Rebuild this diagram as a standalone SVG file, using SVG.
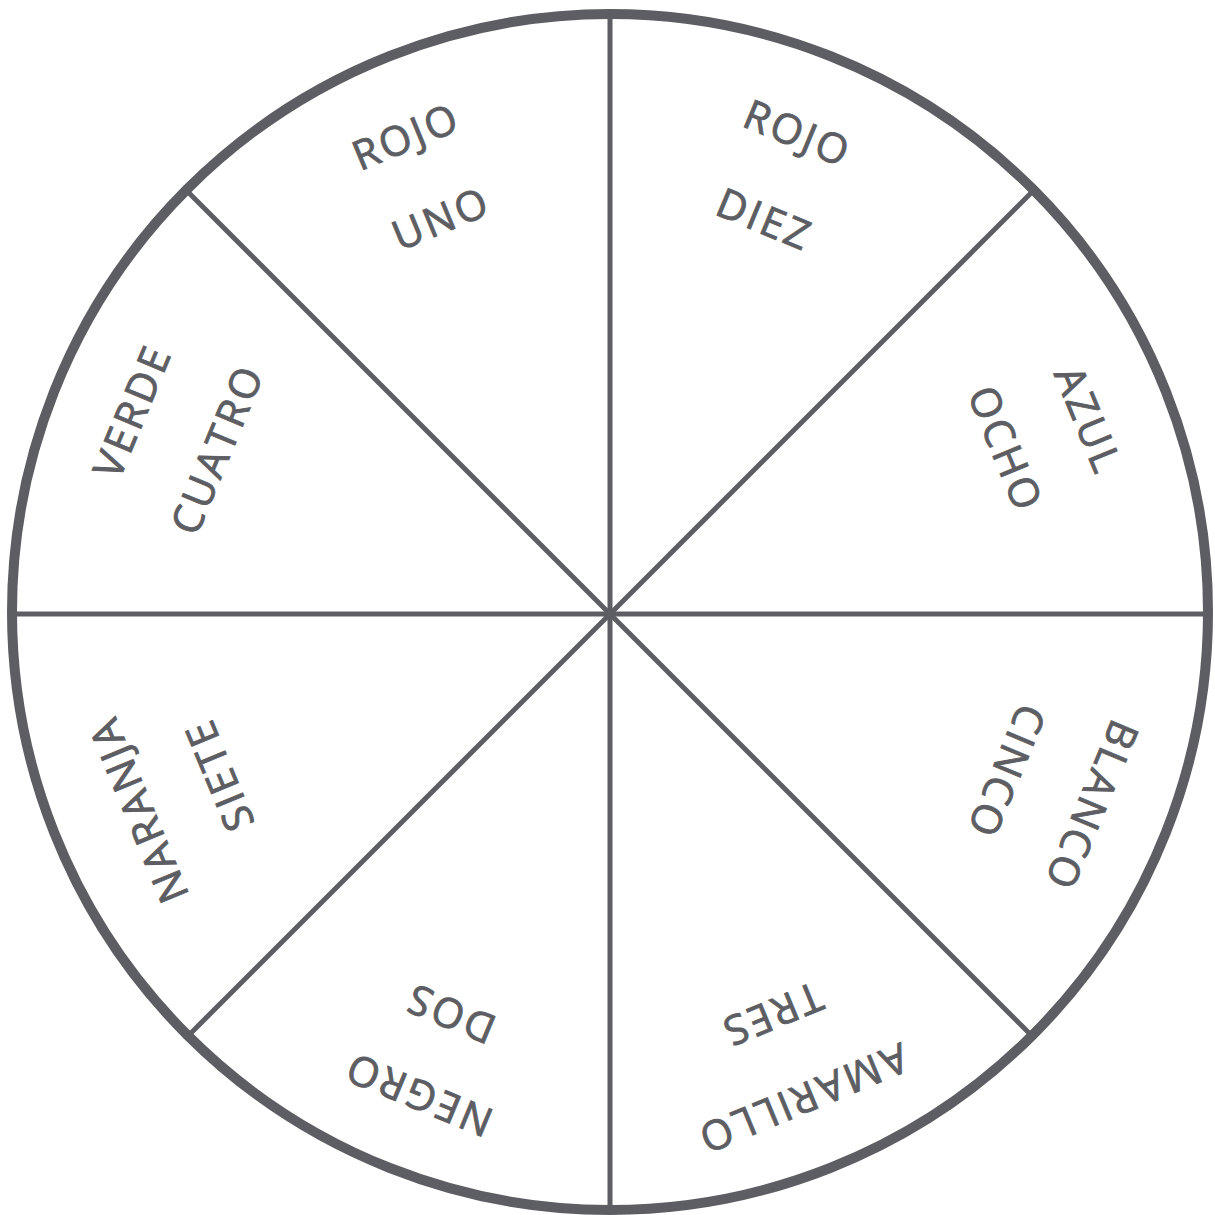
<svg xmlns="http://www.w3.org/2000/svg" width="1215" height="1215" viewBox="0 0 1215 1215">
<style>
.lbl{font-family:"Open Sans","Noto Sans","DejaVu Sans",sans-serif;font-size:41px;fill:#5d5e63;stroke:#5d5e63;stroke-width:0.9px;text-anchor:middle;letter-spacing:3px}
.ln{stroke:#5d5e63;stroke-width:5;fill:none}
</style>
<rect width="1215" height="1215" fill="#ffffff"/>
<g id="connectors">
<line class="ln" x1="610" y1="14" x2="610" y2="1210"/>
<line class="ln" x1="12" y1="614" x2="1208" y2="614"/>
<line class="ln" x1="187" y1="191" x2="1033" y2="1037"/>
<line class="ln" x1="1033" y1="191" x2="187" y2="1037"/>
</g>
<circle id="wheel" cx="610" cy="612" r="598" fill="none" stroke="#5d5e63" stroke-width="10"/>
<g id="sector-uno">
<text class="lbl" transform="translate(406,136) rotate(-22.5)" y="15">ROJO</text>
<text class="lbl" transform="translate(441,218) rotate(-22.5)" y="15">UNO</text>
</g>
<g id="sector-diez">
<text class="lbl" transform="translate(798,133) rotate(22.5)" y="15">ROJO</text>
<text class="lbl" transform="translate(765,219) rotate(22.5)" y="15">DIEZ</text>
</g>
<g id="sector-ocho">
<text class="lbl" transform="translate(1089,420) rotate(67.5)" y="15">AZUL</text>
<text class="lbl" transform="translate(1006,449) rotate(67.5)" y="15">OCHO</text>
</g>
<g id="sector-cinco">
<text class="lbl" transform="translate(1092,806) rotate(112.5)" y="15">BLANCO</text>
<text class="lbl" transform="translate(1007,772) rotate(112.5)" y="15">CINCO</text>
</g>
<g id="sector-tres">
<text class="lbl" transform="translate(803,1099) rotate(157.5)" y="15">AMARILLO</text>
<text class="lbl" transform="translate(772,1015) rotate(157.5)" y="15">TRES</text>
</g>
<g id="sector-dos">
<text class="lbl" transform="translate(418,1095) rotate(-157.5)" y="15">NEGRO</text>
<text class="lbl" transform="translate(450,1014) rotate(-157.5)" y="15">DOS</text>
</g>
<g id="sector-siete">
<text class="lbl" transform="translate(138,810) rotate(-112.5)" y="15">NARANJA</text>
<text class="lbl" transform="translate(219,775) rotate(-112.5)" y="15">SIETE</text>
</g>
<g id="sector-cuatro">
<text class="lbl" transform="translate(132,411) rotate(-67.5)" y="15">VERDE</text>
<text class="lbl" transform="translate(217,449) rotate(-67.5)" y="15">CUATRO</text>
</g>
</svg>
